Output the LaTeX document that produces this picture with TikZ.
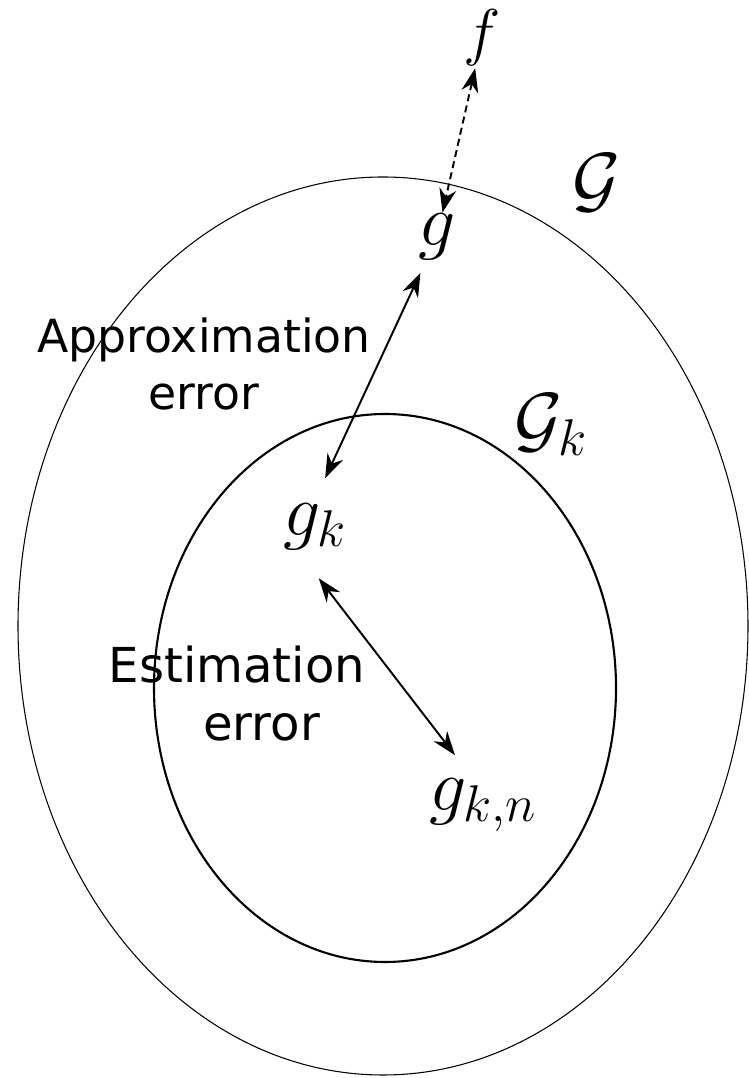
\RequirePackage{fix-cm}
\documentclass[tikz,border=0pt]{standalone}
\usepackage{fontspec}
\setsansfont{DejaVu Sans}
\usepackage{amsmath,amssymb}
\usetikzlibrary{arrows.meta,positioning}
\tikzset{
  setline/.style={draw=black,line width=0.6pt},
  subsetline/.style={draw=black,line width=1.2pt},
  mathlbl/.style={font=\fontsize{42}{50}\selectfont,inner sep=2pt},
  errlbl/.style={font=\sffamily\fontsize{26}{32.3}\selectfont,align=center,inner sep=0pt},
  errarrow/.style={{Stealth[length=4.8mm,width=3.4mm]}-{Stealth[length=4.8mm,width=3.4mm]},line width=1.1pt},
  dasharrow/.style={errarrow,dashed,dash pattern=on 4pt off 2.5pt}
}

\begin{document}
\begin{tikzpicture}[x=0.02cm,y=0.02cm]
  \useasboundingbox (0,0) rectangle (748,1078);
  % the two function classes
  \draw[setline] (383,452) ellipse [x radius=365,y radius=449];
  \draw[subsetline] (385,390) ellipse [x radius=231,y radius=274];

  \node[mathlbl,font=\fontsize{36}{42}\selectfont] (f) at (482,1040) {$f$};
  \node[mathlbl] (g) at (437,841) {$g$};
  \node[mathlbl] (gk) at (315,551) {$g_k$};
  \node[mathlbl] (gkn) at (483,273) {$g_{k,n}$};
  \node[mathlbl] (G) at (597,895) {$\mathcal{G}$};
  \node[mathlbl] (Gk) at (551,653) {$\mathcal{G}_k$};

  \node[errlbl] (approx) at (204,714) {Approximation\\error};
  \node[errlbl,font=\sffamily\fontsize{27.4}{33}\selectfont] (estim) at (237,384) {Estimation\\\hspace*{28pt}error};

  \draw[dasharrow,shorten <=-1pt,shorten >=-1.5pt] (f) -- (g);
  \draw[errarrow,shorten <=5.6pt,shorten >=13.7pt] (g) -- (gk.north);
  \draw[errarrow,shorten <=17.5pt,shorten >=14pt] ([xshift=-0.3cm]gk.south) -- ([xshift=-0.26cm]gkn.north);
\end{tikzpicture}
\end{document}
